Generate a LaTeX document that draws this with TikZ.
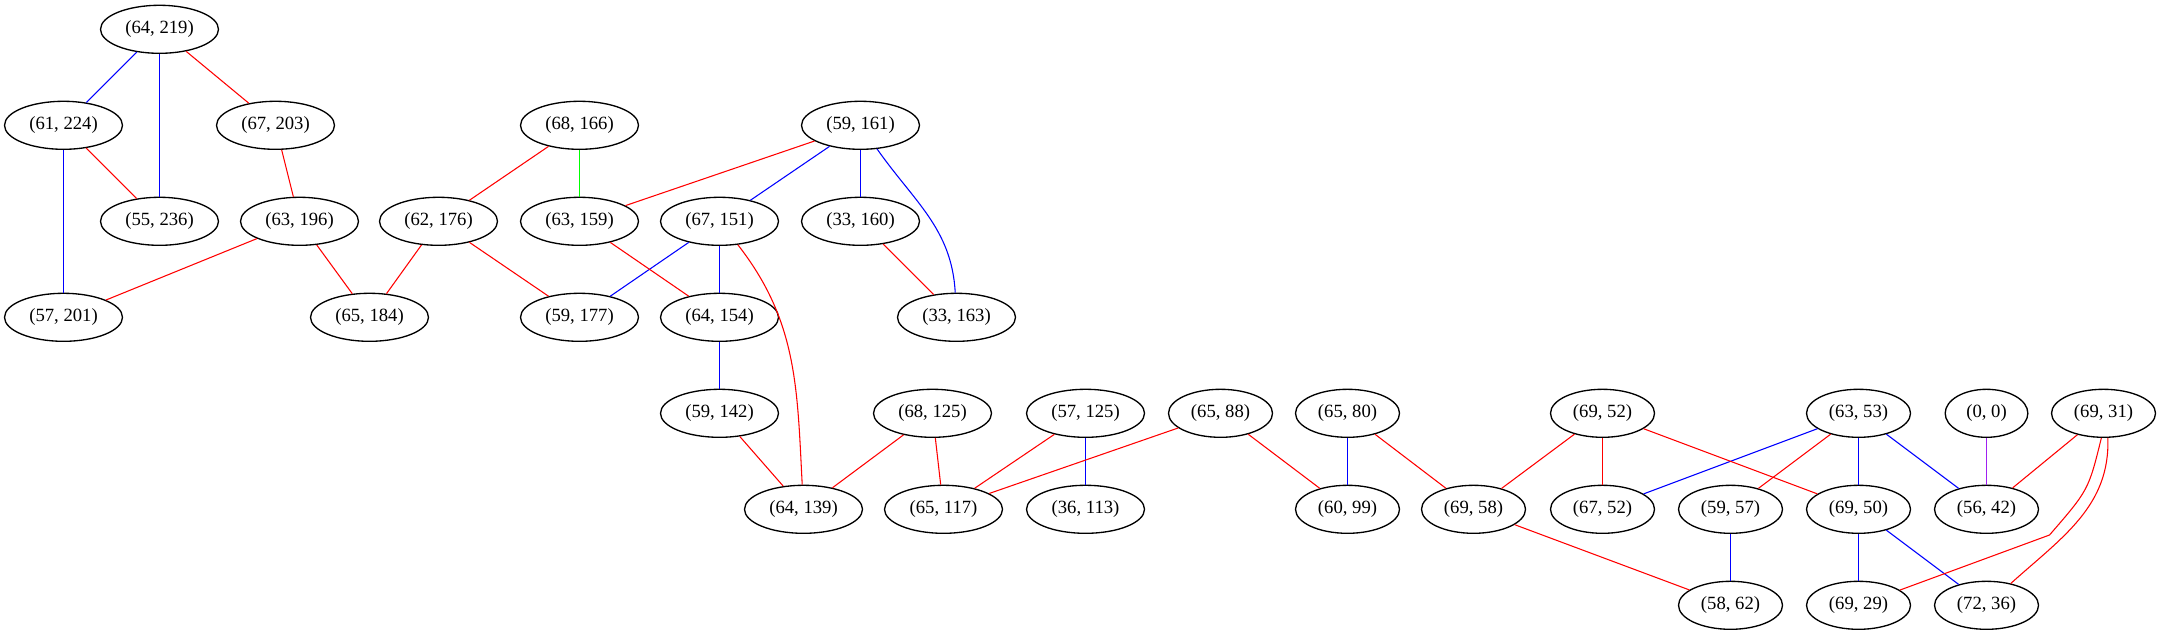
\documentclass[tikz,border=0pt]{standalone}
\usepackage{fontspec}
\setmainfont{Liberation Serif}
\usetikzlibrary{shapes.geometric}
\definecolor{gvpurple}{HTML}{A020F0}
\definecolor{gvgreen}{HTML}{00FF00}
\definecolor{gvblue}{HTML}{0000FF}
\definecolor{gvred}{HTML}{FF0000}
\tikzset{
  nd/.style={draw=black, ellipse, line width=1pt, minimum height=36pt, minimum width=88.5pt, inner sep=0pt, font=\fontsize{14}{16}\selectfont},
  ndb/.style={nd, minimum width=78pt},
  ndc/.style={nd, minimum width=62pt},
  eb/.style={draw=gvblue, line width=0.8pt},
  er/.style={draw=gvred, line width=0.8pt},
  eg/.style={draw=gvgreen, line width=0.8pt},
  ep/.style={draw=gvpurple, line width=0.8pt}
}
\begin{document}
\begin{tikzpicture}[x=0.75pt, y=-0.75pt]
\useasboundingbox (0,0) rectangle (2161,635);
\begin{scope}[shift={(0.5,0)}]
% rank 1
\node[nd] (n64219) at (159,29.3) {(64, 219)};
% rank 2
\node[nd] (n61224) at (63,125.3) {(61, 224)};
\node[nd] (n67203) at (275,125.3) {(67, 203)};
\node[nd] (n68166) at (579,125.3) {(68, 166)};
\node[nd] (n59161) at (860,125.3) {(59, 161)};
% rank 3
\node[nd] (n55236) at (159,221.3) {(55, 236)};
\node[nd] (n63196) at (299,221.3) {(63, 196)};
\node[nd] (n62176) at (438,221.3) {(62, 176)};
\node[nd] (n63159) at (579,221.3) {(63, 159)};
\node[nd] (n67151) at (719,221.3) {(67, 151)};
\node[nd] (n33160) at (860,221.3) {(33, 160)};
% rank 4
\node[nd] (n57201) at (63,317.3) {(57, 201)};
\node[nd] (n65184) at (369,317.3) {(65, 184)};
\node[nd] (n59177) at (579,317.3) {(59, 177)};
\node[nd] (n64154) at (719,317.3) {(64, 154)};
\node[nd] (n33163) at (956,317.3) {(33, 163)};
% rank 5
\node[nd] (n59142) at (719,413.3) {(59, 142)};
\node[nd] (n68125) at (932,413.3) {(68, 125)};
\node[nd] (n57125) at (1085,413.3) {(57, 125)};
\node[ndb] (n6588) at (1220,413.3) {(65, 88)};
\node[ndb] (n6580) at (1347,413.3) {(65, 80)};
\node[ndb] (n6952) at (1602,413.3) {(69, 52)};
\node[ndb] (n6353) at (1858,413.3) {(63, 53)};
\node[ndc] (n00) at (1986,413.3) {(0, 0)};
\node[ndb] (n6931) at (2103,413.3) {(69, 31)};
% rank 6
\node[nd] (n64139) at (803,509.3) {(64, 139)};
\node[nd] (n65117) at (943,509.3) {(65, 117)};
\node[nd] (n36113) at (1085,509.3) {(36, 113)};
\node[ndb] (n6099) at (1347,509.3) {(60, 99)};
\node[ndb] (n6958) at (1473,509.3) {(69, 58)};
\node[ndb] (n6752) at (1602,509.3) {(67, 52)};
\node[ndb] (n5957) at (1730,509.3) {(59, 57)};
\node[ndb] (n6950) at (1858,509.3) {(69, 50)};
\node[ndb] (n5642) at (1986,509.3) {(56, 42)};
% rank 7
\node[ndb] (n5862) at (1730,605.3) {(58, 62)};
\node[ndb] (n6929) at (1858,605.3) {(69, 29)};
\node[ndb] (n7236) at (1986,605.3) {(72, 36)};
\coordinate (kink) at (2049,535);
% blue edges
\draw[eb] (n64219) -- (n61224);
\draw[eb] (n64219) -- (n55236);
\draw[eb] (n61224) -- (n57201);
\draw[eb] (n59161) -- (n67151);
\draw[eb] (n59161) -- (n33160);
\draw[eb] (n59161) to[out=-55,in=93] (n33163);
\draw[eb] (n67151) -- (n59177);
\draw[eb] (n67151) -- (n64154);
\draw[eb] (n64154) -- (n59142);
\draw[eb] (n57125) -- (n36113);
\draw[eb] (n6580) -- (n6099);
\draw[eb] (n6353) -- (n6752);
\draw[eb] (n6353) -- (n6950);
\draw[eb] (n6353) -- (n5642);
\draw[eb] (n5957) -- (n5862);
\draw[eb] (n6950) -- (n6929);
\draw[eb] (n6950) -- (n7236);
% red edges
\draw[er] (n64219) -- (n67203);
\draw[er] (n61224) -- (n55236);
\draw[er] (n67203) -- (n63196);
\draw[er] (n68166) -- (n62176);
\draw[er] (n59161) -- (n63159);
\draw[er] (n63196) -- (n57201);
\draw[er] (n63196) -- (n65184);
\draw[er] (n62176) -- (n65184);
\draw[er] (n62176) -- (n59177);
\draw[er] (n63159) -- (n64154);
\draw[er] (n67151) to[out=-52,in=93] (n64139);
\draw[er] (n33160) -- (n33163);
\draw[er] (n59142) -- (n64139);
\draw[er] (n68125) -- (n64139);
\draw[er] (n68125) -- (n65117);
\draw[er] (n57125) -- (n65117);
\draw[er] (n6588) -- (n65117);
\draw[er] (n6588) -- (n6099);
\draw[er] (n6580) -- (n6958);
\draw[er] (n6952) -- (n6958);
\draw[er] (n6952) -- (n6752);
\draw[er] (n6952) -- (n6950);
\draw[er] (n6353) -- (n5957);
\draw[er] (n6931) -- (n5642);
\draw[er] (n6931.-95) .. controls (2088,490) .. (kink) -- (n6929);
\draw[er] (n6931.-80) to[out=-88,in=42] (n7236);
\draw[er] (n6958) -- (n5862);
% green / purple
\draw[eg] (n68166) -- (n63159);
\draw[ep] (n00) -- (n5642);
\end{scope}
\end{tikzpicture}
\end{document}
